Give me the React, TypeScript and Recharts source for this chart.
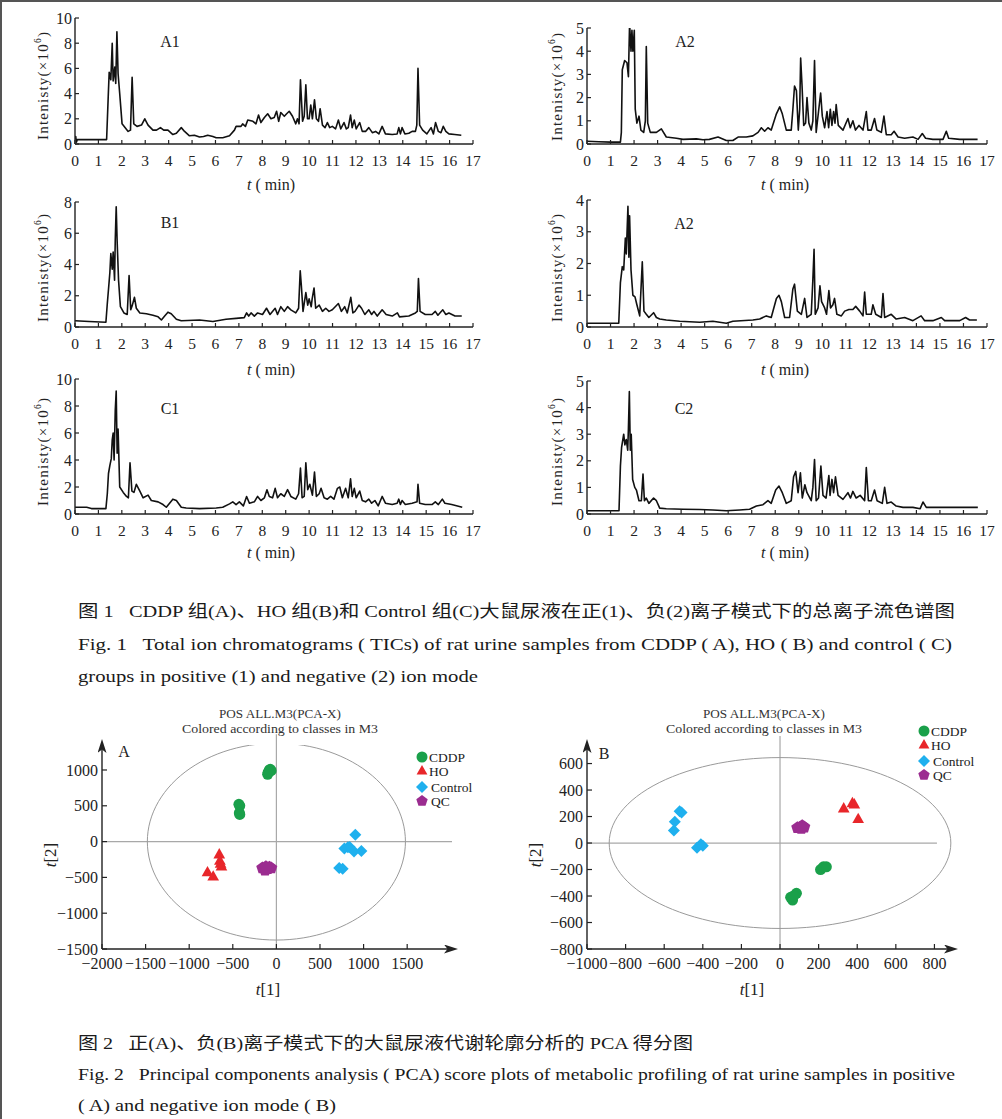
import React from 'react';
import { LineChart, Line, XAxis, YAxis, ScatterChart, Scatter, ReferenceLine } from 'recharts';

type Pt = [number, number];

// ---- chromatogram data: [time (min), intensity (x10^6)] ----
const MINUTES = [0, 1, 2, 3, 4, 5, 6, 7, 8, 9, 10, 11, 12, 13, 14, 15, 16, 17];
const TICKS_10 = [0, 2, 4, 6, 8, 10];
const TICKS_8 = [0, 2, 4, 6, 8];
const TICKS_5 = [0, 1, 2, 3, 4, 5];
const TICKS_4 = [0, 1, 2, 3, 4];

const TIC_A1: Pt[] = [
  [0, 0.35], [0.03, 0.6], [0.06, 0.15], [0.1, 0.35], [1.35, 0.35], [1.42, 3.8], [1.46, 5.7], [1.53, 5.1],
  [1.59, 8.0], [1.63, 5.0], [1.7, 6.1], [1.74, 4.8], [1.79, 8.9], [1.84, 5.6], [1.91, 4.0], [2.01, 1.6],
  [2.27, 1.0], [2.37, 1.1], [2.44, 5.3], [2.51, 1.6], [2.65, 1.4], [2.84, 1.5], [2.98, 2.0], [3.12, 1.5],
  [3.33, 1.1], [3.48, 1.1], [3.65, 1.3], [3.79, 1.1], [3.97, 1.1], [4.18, 0.75], [4.33, 0.85], [4.54, 1.3],
  [4.68, 1.0], [4.89, 0.65], [5.1, 0.7], [5.32, 0.55], [5.49, 0.6], [5.67, 0.7], [5.89, 0.6], [6.03, 0.5],
  [6.31, 0.5], [6.6, 0.65], [6.81, 1.1], [6.88, 1.4], [7.09, 1.4], [7.16, 1.6], [7.28, 1.4], [7.38, 1.9],
  [7.6, 1.8], [7.73, 1.6], [7.84, 2.3], [7.94, 1.7], [8.09, 2.1], [8.23, 2.4], [8.37, 2.0], [8.51, 2.1],
  [8.61, 2.6], [8.7, 1.8], [8.79, 2.5], [8.94, 2.2], [9.04, 2.4], [9.15, 2.6], [9.29, 2.2], [9.43, 1.6],
  [9.5, 2.0], [9.57, 1.6], [9.63, 5.1], [9.72, 1.8], [9.79, 2.2], [9.86, 4.7], [9.93, 2.0], [10.0, 2.0],
  [10.07, 3.1], [10.14, 2.0], [10.23, 3.5], [10.31, 2.0], [10.4, 1.8], [10.47, 2.8], [10.57, 1.5], [10.68, 1.3],
  [10.78, 1.7], [10.88, 1.3], [10.99, 1.4], [11.13, 1.2], [11.25, 1.9], [11.35, 1.2], [11.49, 1.7], [11.59, 1.2],
  [11.67, 1.3], [11.77, 2.3], [11.84, 1.3], [11.93, 1.9], [12.01, 1.2], [12.16, 1.7], [12.27, 1.0], [12.41, 1.0],
  [12.55, 1.3], [12.7, 0.9], [12.84, 1.0], [12.98, 0.8], [13.12, 1.4], [13.26, 0.8], [13.55, 0.75], [13.76, 0.8],
  [13.83, 1.3], [13.9, 0.8], [13.97, 1.3], [14.09, 0.8], [14.26, 0.85], [14.4, 1.0], [14.54, 1.0], [14.6, 1.5],
  [14.65, 6.0], [14.72, 1.5], [14.85, 1.1], [15.03, 0.8], [15.21, 1.3], [15.31, 0.8], [15.4, 1.7], [15.52, 1.0],
  [15.63, 0.9], [15.73, 1.4], [15.84, 1.0], [15.97, 0.8], [16.22, 0.75], [16.5, 0.7],
];

const TIC_A2: Pt[] = [
  [0, 0.12], [0.5, 0.1], [1.0, 0.08], [1.42, 0.08], [1.46, 0.5], [1.5, 3.2], [1.6, 3.6], [1.7, 3.5],
  [1.76, 2.9], [1.81, 5.2], [1.87, 4.0], [1.91, 4.9], [1.95, 4.0], [2.01, 4.9], [2.05, 1.5], [2.12, 0.9],
  [2.21, 1.2], [2.29, 0.6], [2.41, 0.5], [2.48, 1.0], [2.52, 4.2], [2.58, 0.9], [2.69, 0.5], [2.95, 0.5],
  [3.16, 0.65], [3.37, 0.3], [3.8, 0.25], [4.08, 0.2], [4.65, 0.22], [4.93, 0.18], [5.2, 0.2], [5.57, 0.3],
  [5.92, 0.15], [6.2, 0.15], [6.42, 0.3], [6.77, 0.3], [7.05, 0.35], [7.27, 0.5], [7.41, 0.7], [7.55, 0.55],
  [7.69, 0.7], [7.83, 0.6], [8.05, 1.3], [8.19, 1.6], [8.3, 1.3], [8.47, 0.6], [8.68, 0.6], [8.75, 1.5],
  [8.82, 2.5], [8.9, 2.3], [8.98, 0.6], [9.04, 1.5], [9.08, 3.7], [9.14, 2.5], [9.21, 0.8], [9.29, 0.9],
  [9.35, 2.0], [9.43, 0.9], [9.53, 0.6], [9.6, 1.0], [9.67, 3.6], [9.74, 0.5], [9.84, 1.4], [9.93, 2.2],
  [10.0, 1.2], [10.1, 0.7], [10.2, 1.4], [10.27, 0.7], [10.34, 1.5], [10.41, 0.8], [10.48, 1.4], [10.54, 0.9],
  [10.59, 1.7], [10.68, 0.8], [10.88, 0.6], [11.09, 1.1], [11.19, 0.7], [11.3, 1.0], [11.41, 0.6], [11.56, 0.8],
  [11.73, 0.6], [11.87, 1.4], [11.94, 0.6], [12.08, 0.6], [12.22, 1.1], [12.32, 0.6], [12.51, 0.5], [12.62, 1.2],
  [12.72, 0.4], [12.93, 0.4], [13.05, 0.55], [13.22, 0.3], [13.5, 0.25], [13.85, 0.3], [14.07, 0.2], [14.25, 0.45],
  [14.39, 0.25], [14.7, 0.2], [15.13, 0.2], [15.27, 0.55], [15.37, 0.25], [15.84, 0.2], [16.6, 0.2],
];

const TIC_B1: Pt[] = [
  [0, 0.4], [0.6, 0.35], [1.32, 0.3], [1.38, 1.5], [1.43, 2.4], [1.49, 3.5], [1.53, 4.7], [1.59, 3.7],
  [1.63, 4.8], [1.69, 3.0], [1.72, 5.6], [1.76, 7.7], [1.8, 5.5], [1.86, 3.0], [1.94, 1.3], [2.09, 0.9],
  [2.23, 0.8], [2.31, 3.3], [2.38, 1.1], [2.45, 1.4], [2.54, 1.9], [2.62, 1.2], [2.77, 0.9], [3.05, 0.85],
  [3.33, 0.75], [3.55, 0.65], [3.69, 0.45], [3.83, 0.7], [3.97, 0.95], [4.11, 0.85], [4.33, 0.5], [4.54, 0.4],
  [5.32, 0.45], [5.89, 0.35], [6.45, 0.5], [6.88, 0.55], [7.23, 0.6], [7.33, 0.9], [7.42, 0.7], [7.52, 0.9],
  [7.66, 0.7], [7.8, 0.9], [8.01, 0.8], [8.18, 1.2], [8.33, 0.8], [8.55, 1.2], [8.65, 0.8], [8.79, 1.3],
  [8.94, 1.0], [9.08, 1.3], [9.22, 1.1], [9.43, 0.9], [9.55, 1.2], [9.62, 3.6], [9.67, 2.6], [9.74, 1.0],
  [9.86, 2.2], [9.94, 1.4], [10.0, 1.8], [10.09, 1.3], [10.13, 1.8], [10.21, 2.5], [10.28, 1.2], [10.43, 1.4],
  [10.57, 1.0], [10.71, 1.2], [10.85, 1.0], [10.99, 1.1], [11.25, 1.5], [11.38, 1.0], [11.52, 1.3], [11.63, 0.9],
  [11.78, 1.9], [11.87, 0.9], [11.96, 1.0], [12.13, 1.4], [12.24, 1.2], [12.38, 0.8], [12.55, 1.1], [12.67, 0.8],
  [12.77, 1.0], [12.91, 0.7], [13.12, 1.1], [13.29, 0.8], [13.55, 0.7], [13.77, 0.9], [13.86, 0.65], [14.26, 0.7],
  [14.54, 0.9], [14.62, 1.0], [14.67, 3.1], [14.74, 1.0], [14.96, 0.8], [15.25, 0.8], [15.39, 1.0], [15.5, 0.75],
  [15.71, 1.1], [15.84, 0.8], [15.97, 0.9], [16.23, 0.7], [16.52, 0.7],
];

const TIC_B2: Pt[] = [
  [0, 0.12], [0.7, 0.12], [1.35, 0.12], [1.42, 1.4], [1.5, 1.9], [1.56, 1.8], [1.63, 2.8], [1.67, 2.3],
  [1.74, 3.8], [1.78, 2.2], [1.81, 3.5], [1.87, 1.8], [1.95, 1.0], [2.04, 0.95], [2.12, 0.7], [2.24, 0.35],
  [2.35, 2.05], [2.42, 0.5], [2.52, 0.4], [2.63, 0.3], [2.83, 0.45], [2.95, 0.3], [3.09, 0.25], [3.37, 0.22],
  [3.94, 0.18], [4.79, 0.15], [5.35, 0.18], [5.92, 0.12], [6.2, 0.18], [7.05, 0.22], [7.34, 0.25], [7.62, 0.35],
  [7.83, 0.3], [8.05, 0.9], [8.16, 1.0], [8.26, 0.8], [8.4, 0.3], [8.61, 0.3], [8.75, 1.2], [8.82, 1.35],
  [8.94, 0.5], [9.11, 0.4], [9.25, 0.9], [9.35, 0.3], [9.53, 0.4], [9.6, 1.5], [9.65, 2.45], [9.7, 0.4],
  [9.82, 0.6], [9.9, 1.3], [9.97, 0.8], [10.1, 0.6], [10.18, 0.4], [10.28, 1.15], [10.35, 0.6], [10.45, 0.7],
  [10.52, 0.9], [10.62, 0.4], [10.81, 0.35], [10.95, 0.5], [11.13, 0.55], [11.3, 0.55], [11.42, 0.65], [11.59, 0.5],
  [11.73, 0.35], [11.8, 1.1], [11.87, 0.4], [12.08, 0.4], [12.15, 0.7], [12.27, 0.4], [12.51, 0.3], [12.58, 1.05],
  [12.65, 0.3], [12.93, 0.4], [13.14, 0.25], [13.5, 0.3], [13.85, 0.2], [14.2, 0.35], [14.35, 0.2], [14.7, 0.2],
  [15.06, 0.3], [15.2, 0.2], [15.84, 0.2], [16.09, 0.3], [16.26, 0.22], [16.57, 0.22],
];

const TIC_C1: Pt[] = [
  [0, 0.5], [0.5, 0.5], [0.7, 0.4], [1.32, 0.4], [1.38, 1.5], [1.43, 3.0], [1.49, 3.6], [1.55, 4.1],
  [1.59, 5.5], [1.63, 6.0], [1.67, 4.0], [1.72, 7.7], [1.76, 9.1], [1.8, 4.5], [1.84, 6.3], [1.91, 2.0],
  [2.06, 1.6], [2.2, 1.3], [2.28, 1.2], [2.35, 3.8], [2.43, 1.7], [2.52, 1.6], [2.62, 2.2], [2.77, 1.7],
  [2.91, 1.2], [3.12, 1.4], [3.26, 1.0], [3.55, 0.9], [3.76, 0.7], [3.9, 0.5], [4.04, 0.8], [4.18, 1.1],
  [4.33, 1.0], [4.54, 0.5], [4.75, 0.45], [5.32, 0.4], [6.03, 0.45], [6.31, 0.5], [6.6, 0.75], [6.74, 0.9],
  [6.88, 0.7], [7.02, 0.9], [7.19, 0.6], [7.33, 1.3], [7.45, 0.8], [7.66, 0.9], [7.8, 1.3], [7.94, 1.0],
  [8.09, 1.2], [8.2, 1.8], [8.3, 1.3], [8.44, 1.2], [8.55, 1.9], [8.65, 1.2], [8.79, 1.5], [8.94, 1.3],
  [9.08, 1.8], [9.22, 1.3], [9.43, 1.1], [9.55, 1.5], [9.63, 3.4], [9.7, 1.2], [9.79, 1.3], [9.86, 3.8],
  [9.94, 1.8], [10.03, 2.2], [10.14, 1.4], [10.23, 3.1], [10.31, 1.3], [10.43, 1.5], [10.51, 1.9], [10.64, 1.2],
  [10.78, 1.1], [10.92, 1.3], [11.06, 1.1], [11.21, 1.9], [11.31, 2.0], [11.42, 1.2], [11.56, 1.9], [11.67, 1.2],
  [11.77, 2.6], [11.84, 1.3], [11.93, 1.9], [12.01, 1.2], [12.16, 1.7], [12.27, 1.0], [12.41, 0.9], [12.55, 1.1],
  [12.67, 0.8], [12.81, 1.0], [12.95, 0.6], [13.12, 1.3], [13.26, 0.8], [13.55, 0.7], [13.76, 0.8], [13.83, 1.1],
  [13.9, 0.7], [13.97, 1.0], [14.11, 0.7], [14.4, 0.8], [14.61, 0.9], [14.65, 2.2], [14.72, 0.8], [14.96, 0.7],
  [15.25, 0.7], [15.39, 0.9], [15.52, 0.7], [15.69, 1.1], [15.8, 0.8], [16.09, 0.7], [16.54, 0.5],
];

const TIC_C2: Pt[] = [
  [0, 0.12], [0.8, 0.12], [1.36, 0.12], [1.42, 1.8], [1.47, 2.5], [1.56, 3.0], [1.61, 2.6], [1.67, 2.8],
  [1.73, 2.4], [1.76, 3.2], [1.8, 4.6], [1.84, 2.4], [1.88, 3.0], [1.94, 1.3], [2.03, 1.0], [2.1, 0.9],
  [2.21, 0.5], [2.31, 0.5], [2.38, 1.5], [2.44, 0.5], [2.52, 0.6], [2.63, 0.4], [2.83, 0.6], [2.95, 0.5],
  [3.09, 0.22], [3.37, 0.2], [4.08, 0.18], [4.79, 0.17], [5.35, 0.15], [5.92, 0.12], [6.49, 0.15], [6.91, 0.18],
  [7.2, 0.3], [7.48, 0.35], [7.69, 0.5], [7.83, 0.4], [8.02, 0.9], [8.16, 1.05], [8.3, 0.8], [8.47, 0.4],
  [8.68, 0.5], [8.78, 1.4], [8.87, 1.6], [8.97, 0.8], [9.07, 1.55], [9.15, 0.6], [9.26, 1.1], [9.35, 0.8],
  [9.53, 0.5], [9.6, 1.0], [9.67, 2.05], [9.74, 0.5], [9.84, 0.6], [9.94, 1.8], [10.03, 0.7], [10.16, 0.6],
  [10.28, 1.45], [10.33, 0.7], [10.41, 1.3], [10.48, 0.8], [10.56, 1.4], [10.67, 0.7], [10.88, 0.55], [11.09, 0.8],
  [11.2, 0.6], [11.3, 0.85], [11.44, 0.6], [11.61, 0.7], [11.8, 0.5], [11.87, 1.75], [11.96, 0.5], [12.08, 0.5],
  [12.22, 0.9], [12.33, 0.5], [12.55, 0.4], [12.65, 1.0], [12.75, 0.4], [12.93, 0.45], [13.14, 0.3], [13.43, 0.25],
  [13.85, 0.25], [14.16, 0.2], [14.28, 0.45], [14.42, 0.25], [14.99, 0.25], [15.55, 0.25], [16.61, 0.25],
];

// ---- PCA scores: [t1, t2] ----
const PCA_A_TICKS_X = [-2000, -1500, -1000, -500, 0, 500, 1000, 1500];
const PCA_A_TICKS_Y = [-1500, -1000, -500, 0, 500, 1000];
const PCA_B_TICKS_X = [-1000, -800, -600, -400, -200, 0, 200, 400, 600, 800];
const PCA_B_TICKS_Y = [-800, -600, -400, -200, 0, 200, 400, 600];

const CDDP_A: Pt[] = [[-100, 940], [-80, 1000], [-60, 990], [-95, 965], [-70, 1010], [-85, 975], [-430, 520], [-420, 500], [-425, 400], [-420, 380]];
const HO_A: Pt[] = [[-655, -180], [-648, -270], [-640, -310], [-630, -350], [-790, -430], [-725, -490]];
const CONTROL_A: Pt[] = [[905, 95], [780, -95], [820, -80], [840, -75], [890, -140], [975, -130], [720, -370], [760, -380]];
const QC_A: Pt[] = [[-160, -370], [-130, -400], [-100, -380], [-80, -360], [-60, -370], [-120, -350]];

const CDDP_B: Pt[] = [[210, -200], [225, -180], [240, -180], [55, -410], [65, -430], [85, -380], [70, -400]];
const HO_B: Pt[] = [[330, 260], [375, 300], [385, 290], [405, 180]];
const CONTROL_B: Pt[] = [[-520, 240], [-510, 230], [-545, 160], [-550, 95], [-430, -35], [-410, -10], [-400, -20]];
const QC_B: Pt[] = [[90, 115], [105, 120], [115, 130], [125, 120], [110, 110]];

// Hotelling ellipse semi-axes (t1, t2)
const ELLIPSE_A = { rx: 1480, ry: 1375 };
const ELLIPSE_B = { rx: 885, ry: 645 };

const GROUPS = ['CDDP', 'HO', 'Control', 'QC'];

const FONT = "'Liberation Serif', 'Times New Roman', 'DejaVu Serif', serif";
const CAPTION_FONT = "'Liberation Serif', 'Times New Roman', 'Noto Sans CJK SC', serif";
const INK = '#222';
const GREEN = '#1aa04a';
const RED = '#e8262a';
const BLUE = '#1fb0ee';
const PURPLE = '#9b2c90';
const GAP = '\u00a0\u00a0\u00a0';

const fmt = (v: number) => (v < 0 ? '\u2212' + Math.abs(v) : String(v));
const toXY = (pts: Pt[]) => pts.map(([x, y]) => ({ x, y }));

function ellipseOutline(e: { rx: number; ry: number }) {
  const pts = [];
  for (let i = 0; i <= 120; i++) {
    const a = (i / 120) * Math.PI * 2;
    pts.push({ x: e.rx * Math.cos(a), y: e.ry * Math.sin(a) });
  }
  return pts;
}

// marker glyphs
const drawCircle = (cx: number, cy: number, s: number) => <circle cx={cx} cy={cy} r={s} fill={GREEN} />;
const drawTriangle = (cx: number, cy: number, s: number) => (
  <polygon points={`${cx},${cy - s} ${cx + s * 0.9},${cy + s * 0.6} ${cx - s * 0.9},${cy + s * 0.6}`} fill={RED} />
);
const drawDiamond = (cx: number, cy: number, s: number) => (
  <polygon points={`${cx},${cy - s} ${cx + s},${cy} ${cx},${cy + s} ${cx - s},${cy}`} fill={BLUE} />
);
const drawPentagon = (cx: number, cy: number, s: number) => {
  const p = [0, 1, 2, 3, 4]
    .map((k) => {
      const a = ((-90 + k * 72) * Math.PI) / 180;
      return `${cx + s * Math.cos(a)},${cy + s * Math.sin(a)}`;
    })
    .join(' ');
  return <polygon points={p} fill={PURPLE} />;
};
const GLYPHS = [drawCircle, drawTriangle, drawDiamond, drawPentagon];
const GLYPH_SIZE = [5.5, 6.5, 6, 6.5];

function XTick(props: any) {
  const { x, y, payload, fs, dy, len } = props;
  return (
    <g>
      <line x1={x} x2={x} y1={y} y2={y - len} stroke={INK} strokeWidth={1.2} />
      <text x={x} y={y + dy} textAnchor="middle" fontFamily={FONT} fontSize={fs} fill={INK}>
        {fmt(payload.value)}
      </text>
    </g>
  );
}

function YTick(props: any) {
  const { x, y, payload, fs, dx, len } = props;
  return (
    <g>
      <line x1={x} x2={x + len} y1={y} y2={y} stroke={INK} strokeWidth={1.2} />
      <text x={x - dx} y={y + fs * 0.35} textAnchor="end" fontFamily={FONT} fontSize={fs} fill={INK}>
        {fmt(payload.value)}
      </text>
    </g>
  );
}

type TicCfg = {
  tag: string;
  data: Pt[];
  yMax: number;
  yTicks: number[];
  colLeft: number;
  x0: number;
  x1: number;
  yTop: number;
  yBot: number;
  tagX: number;
  tagY: number;
  yLabelX: number;
  yLabelY: number;
  xLabelX: number;
  xLabelY: number;
};

const TIC_PANELS: TicCfg[] = [
  { tag: 'A1', data: TIC_A1, yMax: 10, yTicks: TICKS_10, colLeft: 0, x0: 75, x1: 473, yTop: 18, yBot: 144, tagX: 170, tagY: 47, yLabelX: 43, yLabelY: 86, xLabelX: 271, xLabelY: 190 },
  { tag: 'A2', data: TIC_A2, yMax: 5, yTicks: TICKS_5, colLeft: 500, x0: 587, x1: 987, yTop: 28, yBot: 144, tagX: 685, tagY: 47, yLabelX: 557, yLabelY: 87, xLabelX: 785, xLabelY: 190 },
  { tag: 'B1', data: TIC_B1, yMax: 8, yTicks: TICKS_8, colLeft: 0, x0: 75, x1: 473, yTop: 202, yBot: 327, tagX: 170, tagY: 228, yLabelX: 43, yLabelY: 268, xLabelX: 271, xLabelY: 375 },
  { tag: 'A2', data: TIC_B2, yMax: 4, yTicks: TICKS_4, colLeft: 500, x0: 587, x1: 987, yTop: 200, yBot: 327, tagX: 684, tagY: 229, yLabelX: 557, yLabelY: 268, xLabelX: 785, xLabelY: 375 },
  { tag: 'C1', data: TIC_C1, yMax: 10, yTicks: TICKS_10, colLeft: 0, x0: 75, x1: 473, yTop: 379, yBot: 514, tagX: 170, tagY: 414, yLabelX: 43, yLabelY: 452, xLabelX: 271, xLabelY: 558 },
  { tag: 'C2', data: TIC_C2, yMax: 5, yTicks: TICKS_5, colLeft: 500, x0: 587, x1: 987, yTop: 381, yBot: 514, tagX: 684, tagY: 414, yLabelX: 557, yLabelY: 452, xLabelX: 785, xLabelY: 558 },
];

function TicPanel({ cfg }: { cfg: TicCfg }) {
  const top = cfg.yTop - 14;
  const h = cfg.yBot - top + 52;
  const w = 502;
  const data = cfg.data.map(([t, v]) => ({ t, v }));
  return (
    <div style={{ position: 'absolute', left: cfg.colLeft, top, width: w, height: h }}>
      <LineChart
        width={w}
        height={h}
        data={data}
        margin={{ top: 14, left: cfg.x0 - cfg.colLeft - 30, right: cfg.colLeft + w - cfg.x1, bottom: h - (cfg.yBot - top) - 30 }}
      >
        <XAxis
          type="number"
          dataKey="t"
          domain={[0, 17]}
          ticks={MINUTES}
          interval={0}
          height={30}
          tickSize={0}
          tickMargin={0}
          tickLine={false}
          allowDataOverflow
          axisLine={{ stroke: INK, strokeWidth: 1.4 }}
          tick={(p: any) => <XTick {...p} fs={15.5} dy={22} len={4} />}
        />
        <YAxis
          type="number"
          domain={[0, cfg.yMax]}
          ticks={cfg.yTicks}
          interval={0}
          width={30}
          tickSize={0}
          tickMargin={0}
          tickLine={false}
          allowDataOverflow
          axisLine={{ stroke: INK, strokeWidth: 1.4 }}
          tick={(p: any) => <YTick {...p} fs={16} dx={3} len={4} />}
        />
        <Line dataKey="v" type="linear" stroke="#111" strokeWidth={1.6} strokeLinejoin="round" dot={false} isAnimationActive={false} />
      </LineChart>
    </div>
  );
}

type PcaCfg = {
  left: number;
  width: number;
  margin: { top: number; left: number; right: number; bottom: number };
  xDomain: [number, number];
  yDomain: [number, number];
  xTicks: number[];
  yTicks: number[];
  hLineEnd: number;
  vLineEnd: number;
  ellipse: { rx: number; ry: number };
  groups: Pt[][];
};

const PCA_PANELS: PcaCfg[] = [
  {
    left: 0, width: 500, margin: { top: 45, left: 52, right: 48, bottom: 21 },
    xDomain: [-2000, 2014], yDomain: [-1500, 1349], xTicks: PCA_A_TICKS_X, yTicks: PCA_A_TICKS_Y,
    hLineEnd: 2014, vLineEnd: 1500, ellipse: ELLIPSE_A, groups: [CDDP_A, HO_A, CONTROL_A, QC_A],
  },
  {
    left: 500, width: 502, margin: { top: 45, left: 37, right: 50, bottom: 21 },
    xDomain: [-1000, 891], yDomain: [-800, 740], xTicks: PCA_B_TICKS_X, yTicks: PCA_B_TICKS_Y,
    hLineEnd: 813, vLineEnd: 808, ellipse: ELLIPSE_B, groups: [CDDP_B, HO_B, CONTROL_B, QC_B],
  },
];

function PcaPanel({ cfg }: { cfg: PcaCfg }) {
  return (
    <div style={{ position: 'absolute', left: cfg.left, top: 700, width: cfg.width, height: 300 }}>
      <ScatterChart width={cfg.width} height={300} margin={cfg.margin}>
        <XAxis
          type="number"
          dataKey="x"
          domain={cfg.xDomain}
          ticks={cfg.xTicks}
          interval={0}
          height={30}
          tickSize={0}
          tickMargin={0}
          tickLine={false}
          allowDataOverflow
          axisLine={{ stroke: INK, strokeWidth: 1.4, markerEnd: 'url(#axisArrow)' }}
          tick={(p: any) => <XTick {...p} fs={16} dy={20} len={5} />}
        />
        <YAxis
          type="number"
          dataKey="y"
          domain={cfg.yDomain}
          ticks={cfg.yTicks}
          interval={0}
          width={50}
          tickSize={0}
          tickMargin={0}
          tickLine={false}
          allowDataOverflow
          axisLine={{ stroke: INK, strokeWidth: 1.4, markerStart: 'url(#axisArrow)' }}
          tick={(p: any) => <YTick {...p} fs={16} dx={4} len={5} />}
        />
        <ReferenceLine
          ifOverflow="visible"
          segment={[{ x: 0, y: cfg.yDomain[0] }, { x: 0, y: cfg.vLineEnd }]}
          stroke="#a8a8a8"
          strokeWidth={1.2}
        />
        <ReferenceLine
          ifOverflow="visible"
          segment={[{ x: cfg.xDomain[0], y: 0 }, { x: cfg.hLineEnd, y: 0 }]}
          stroke="#a8a8a8"
          strokeWidth={1.2}
        />
        <Scatter
          data={ellipseOutline(cfg.ellipse)}
          line={{ stroke: '#9a9a9a', strokeWidth: 1 }}
          lineType="joint"
          shape={() => <g />}
          isAnimationActive={false}
        />
        {cfg.groups.map((g, i) => (
          <Scatter
            key={GROUPS[i]}
            name={GROUPS[i]}
            data={toXY(g)}
            shape={(p: any) => GLYPHS[i](p.cx, p.cy, GLYPH_SIZE[i])}
            isAnimationActive={false}
          />
        ))}
      </ScatterChart>
    </div>
  );
}

function PcaDecor({ cx, tag, tagX, tagY, yLabX, xLabX, legX, legY }: any) {
  return (
    <g fontFamily={FONT}>
      <text x={cx} y={718} textAnchor="middle" fontSize={12} fill="#333" textLength={122} lengthAdjust="spacingAndGlyphs">
        POS ALL.M3(PCA-X)
      </text>
      <text x={cx} y={733} textAnchor="middle" fontSize={12} fill="#333" textLength={196} lengthAdjust="spacingAndGlyphs">
        Colored according to classes in M3
      </text>
      <text x={tagX} y={tagY} textAnchor="middle" fontSize={16} fill={INK}>{tag}</text>
      <text x={yLabX} y={855} textAnchor="middle" fontSize={17} fill={INK} transform={`rotate(-90 ${yLabX} 855)`} dominantBaseline="central">
        <tspan fontStyle="italic">t</tspan>[2]
      </text>
      <text x={xLabX} y={995} textAnchor="middle" fontSize={17} fill={INK}>
        <tspan fontStyle="italic">t</tspan>[1]
      </text>
      {GROUPS.map((g, i) => (
        <g key={g}>
          {GLYPHS[i](legX, legY[i], i === 0 ? 5.5 : 6)}
          <text x={legX + (i >= 2 ? 9 : 7)} y={legY[i] + 4.5} fontSize={13.5} fill={INK}>{g}</text>
        </g>
      ))}
    </g>
  );
}

export default function App() {
  return (
    <div style={{ position: 'absolute', left: 0, top: 0, width: 1002, height: 1119, background: '#fff', overflow: 'hidden' }}>
      <svg width={0} height={0} style={{ position: 'absolute' }}>
        <defs>
          <marker id="axisArrow" viewBox="0 0 14 9" refX={8} refY={4.5} markerWidth={14} markerHeight={9} markerUnits="userSpaceOnUse" orient="auto-start-reverse">
            <path d="M0,0 L14,4.5 L0,9 L3.5,4.5 Z" fill={INK} />
          </marker>
        </defs>
      </svg>

      {TIC_PANELS.map((c, i) => (
        <TicPanel key={i} cfg={c} />
      ))}
      {PCA_PANELS.map((c, i) => (
        <PcaPanel key={i} cfg={c} />
      ))}

      <svg width={1002} height={1119} style={{ position: 'absolute', left: 0, top: 0, pointerEvents: 'none' }}>
        <rect x={0} y={0} width={1002} height={2} fill="#555" />
        <rect x={0} y={0} width={2} height={1119} fill="#555" />
        <g fontFamily={FONT} fill={INK}>
          {TIC_PANELS.map((c, i) => (
            <g key={i}>
              <text x={c.tagX} y={c.tagY} textAnchor="middle" fontSize={16}>{c.tag}</text>
              <text
                x={c.yLabelX}
                y={c.yLabelY}
                textAnchor="middle"
                dominantBaseline="central"
                fontSize={15}
                transform={`rotate(-90 ${c.yLabelX} ${c.yLabelY})`}
                textLength={108}
                lengthAdjust="spacing"
              >
                Intenisty(×10<tspan fontSize={9.5} dy={-5}>6</tspan><tspan dy={5}>)</tspan>
              </text>
              <text x={c.xLabelX} y={c.xLabelY} textAnchor="middle" fontSize={16}>
                <tspan fontStyle="italic">t</tspan> ( min)
              </text>
            </g>
          ))}
        </g>

        <PcaDecor cx={280} tag="A" tagX={124} tagY={757} yLabX={50} xLabX={268} legX={422} legY={[757, 771, 787, 801]} />
        <PcaDecor cx={764} tag="B" tagX={604} tagY={759} yLabX={535} xLabX={752} legX={924} legY={[731, 745, 761, 775]} />

        <g fontFamily={CAPTION_FONT} fill="#1a1a1a" fontSize={17}>
          <text x={78} y={617} textLength={877} lengthAdjust="spacingAndGlyphs">
            {'图 1' + GAP + 'CDDP 组(A)、HO 组(B)和 Control 组(C)大鼠尿液在正(1)、负(2)离子模式下的总离子流色谱图'}
          </text>
          <text x={78} y={650} textLength={874} lengthAdjust="spacingAndGlyphs">
            {'Fig. 1' + GAP + 'Total ion chromatograms ( TICs) of rat urine samples from CDDP ( A), HO ( B) and control ( C)'}
          </text>
          <text x={78} y={682} textLength={400} lengthAdjust="spacingAndGlyphs">
            groups in positive (1) and negative (2) ion mode
          </text>
          <text x={78} y={1049} textLength={615} lengthAdjust="spacingAndGlyphs">
            {'图 2' + GAP + '正(A)、负(B)离子模式下的大鼠尿液代谢轮廓分析的 PCA 得分图'}
          </text>
          <text x={78} y={1080} textLength={877} lengthAdjust="spacingAndGlyphs">
            {'Fig. 2' + GAP + 'Principal components analysis ( PCA) score plots of metabolic profiling of rat urine samples in positive'}
          </text>
          <text x={78} y={1111} textLength={258} lengthAdjust="spacingAndGlyphs">
            ( A) and negative ion mode ( B)
          </text>
        </g>
      </svg>
    </div>
  );
}
